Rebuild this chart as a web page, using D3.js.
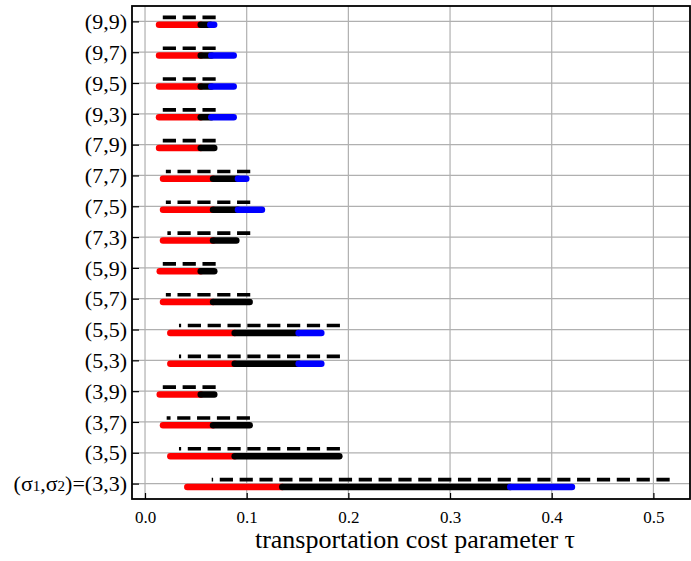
<!DOCTYPE html>
<html>
<head>
<meta charset="utf-8">
<script src="https://cdn.jsdelivr.net/npm/d3@7/dist/d3.min.js"></script>
<style>
  body { margin: 0; background: #fff; }
  text { font-family: "Liberation Serif", "Times New Roman", serif; }
</style>
</head>
<body>
<svg id="chart" width="691" height="561"></svg>
<script>
// rows, bottom to top
var pairs = ["(3,3)", "(3,5)", "(3,7)", "(3,9)", "(5,3)", "(5,5)", "(5,7)", "(5,9)",
             "(7,3)", "(7,5)", "(7,7)", "(7,9)", "(9,3)", "(9,5)", "(9,7)", "(9,9)"];
// solid bar: red from redStart to redEnd, black to blackEnd, blue to blueEnd (null = none)
var redStart  = [0.0416, 0.0249, 0.0177, 0.0145, 0.0249, 0.0249, 0.0177, 0.0145,
                 0.0177, 0.0177, 0.0177, 0.0138, 0.0138, 0.0138, 0.0138, 0.0138];
var redEnd    = [0.135, 0.0882, 0.0669, 0.0548, 0.0882, 0.0882, 0.0669, 0.0548,
                 0.0669, 0.0669, 0.0669, 0.0548, 0.0548, 0.0548, 0.0548, 0.0548];
var blackEnd  = [0.3592, 0.1911, 0.1029, 0.0681, 0.1511, 0.1511, 0.1029, 0.0681,
                 0.0898, 0.0914, 0.0914, 0.0681, 0.0652, 0.0652, 0.0652, 0.0642];
var blueEnd   = [0.4199, null, null, null, 0.1734, 0.1734, null, null,
                 null, 0.115, 0.0996, null, 0.0872, 0.0872, 0.0872, 0.068];
// dashed range
var dashLow   = [0.0656, 0.0334, 0.0213, 0.017, 0.0334, 0.0334, 0.0205, 0.017,
                 0.022, 0.0205, 0.0205, 0.017, 0.017, 0.017, 0.017, 0.017];
var dashHigh  = [0.516, 0.1917, 0.1032, 0.0695, 0.1917, 0.1917, 0.1035, 0.0695,
                 0.1035, 0.1035, 0.1035, 0.0695, 0.0695, 0.0695, 0.0695, 0.0695];
var xTicks = [0.0, 0.1, 0.2, 0.3, 0.4, 0.5];

var svg = d3.select("#chart");
var mLeft = 132, mRight = 690, mTop = 6, mBottom = 499;

var x = d3.scaleLinear().domain([-0.0128, 0.536]).range([mLeft, mRight]);
var y = d3.scalePoint().domain(pairs).range([mBottom, mTop]).padding(0.5);

// grid
var grid = svg.append("g");
grid.selectAll(".vg").data(xTicks).enter().append("line")
    .attr("x1", function(d) { return x(d); }).attr("x2", function(d) { return x(d); })
    .attr("y1", mTop).attr("y2", mBottom)
    .attr("stroke", "#b0b0b0").attr("stroke-width", 1.2);
grid.selectAll(".hg").data(pairs).enter().append("line")
    .attr("x1", mLeft).attr("x2", mRight)
    .attr("y1", function(d) { return y(d); }).attr("y2", function(d) { return y(d); })
    .attr("stroke", "#b0b0b0").attr("stroke-width", 1.2);

var rows = pairs.map(function(p, i) {
    return {p: p, a: redStart[i], b: redEnd[i], c: blackEnd[i], d: blueEnd[i],
            lo: dashLow[i], hi: dashHigh[i]};
});
var step = y.step();

// dashed lines, drawn from right to left so the pattern starts at the right end
svg.append("g").selectAll("path").data(rows).enter().append("path")
    .attr("d", function(r) {
        var yy = y(r.p) - 0.13 * step;
        return "M" + x(r.hi) + "," + yy + "L" + x(r.lo) + "," + yy;
    })
    .attr("stroke", "#000").attr("stroke-width", 3.6)
    .attr("stroke-dasharray", "13.2,6.65").attr("fill", "none");

function seg(color, from, to, filter) {
    svg.append("g").selectAll("line").data(rows.filter(filter)).enter().append("line")
        .attr("x1", function(r) { return x(r[from]); })
        .attr("x2", function(r) { return x(r[to]); })
        .attr("y1", function(r) { return y(r.p) + 0.11 * step; })
        .attr("y2", function(r) { return y(r.p) + 0.11 * step; })
        .attr("stroke", color).attr("stroke-width", 6.5)
        .attr("stroke-linecap", "round");
}
seg("#ff0000", "a", "b", function() { return true; });
seg("#000000", "b", "c", function() { return true; });
seg("#0000ff", "c", "d", function(r) { return r.d != null; });

// axes
var xAxis = d3.axisBottom(x).tickValues(xTicks).tickFormat(d3.format(".1f"))
    .tickSizeInner(-6).tickSizeOuter(0).tickPadding(12);
var gx = svg.append("g").attr("transform", "translate(0," + mBottom + ")").call(xAxis);
gx.select(".domain").remove();
gx.selectAll("line").attr("stroke", "#000").attr("stroke-width", 1.2);
gx.selectAll("text").attr("font-size", "17px").attr("fill", "#000")
    .attr("font-family", "Liberation Serif");

var yAxis = d3.axisLeft(y).tickSizeInner(-7).tickSizeOuter(0).tickPadding(5).tickFormat("");
var gy = svg.append("g").attr("transform", "translate(" + mLeft + ",0)").call(yAxis);
gy.select(".domain").remove();
gy.selectAll("line").attr("stroke", "#000").attr("stroke-width", 1.2);

// y tick labels (bottom one gets the subscripted prefix)
var ylab = svg.append("g").selectAll("text").data(pairs).enter().append("text")
    .attr("x", mLeft - 5).attr("y", function(d) { return y(d); })
    .attr("dy", "0.35em").attr("text-anchor", "end")
    .attr("font-size", "22px").attr("fill", "#000");
ylab.each(function(d, i) {
    var t = d3.select(this);
    if (i == 0) {
        t.append("tspan").text("(σ");
        t.append("tspan").text("1").attr("font-size", "15px");
        t.append("tspan").text(",σ");
        t.append("tspan").text("2").attr("font-size", "15px");
        t.append("tspan").text(")=" + d);
    } else {
        t.text(d);
    }
});

// frame
svg.append("rect").attr("x", mLeft).attr("y", mTop)
    .attr("width", mRight - mLeft).attr("height", mBottom - mTop)
    .attr("fill", "none").attr("stroke", "#000").attr("stroke-width", 1.8);

svg.append("text").attr("x", 415).attr("y", 548)
    .attr("text-anchor", "middle").attr("font-size", "26px").attr("fill", "#000")
    .text("transportation cost parameter τ");
</script>
</body>
</html>
